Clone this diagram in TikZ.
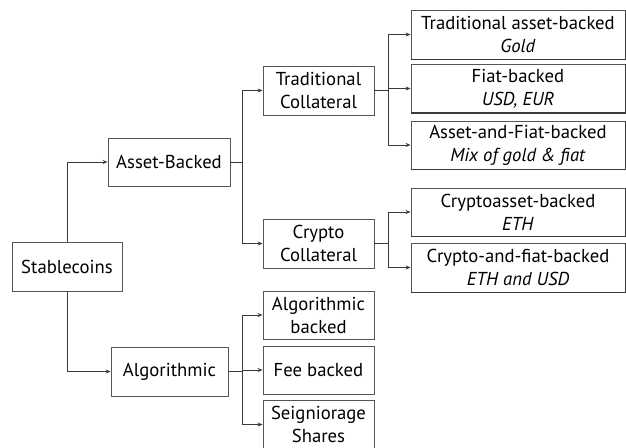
\documentclass[tikz,border=0pt]{standalone}
\usepackage{fontspec}
\setmainfont{PT Sans}
\usetikzlibrary{arrows.meta}
\definecolor{linegray}{HTML}{3A3A3A}
\definecolor{boxgray}{HTML}{555555}
\begin{document}
\begin{tikzpicture}[x=1pt,y=-1pt,
  box/.style={draw=boxgray, line width=0.8pt, align=center, inner sep=0pt,
    font=\fontsize{18.7}{23}\selectfont, text=black},
  midbox/.style={box, minimum width=111pt, minimum height=49pt},
  leafbox/.style={box, minimum width=214pt, minimum height=49pt},
  conn/.style={draw=linegray, line width=0.8pt, -{Stealth[length=5pt,width=4pt]}},
  plain/.style={draw=linegray, line width=0.8pt}]
\useasboundingbox (0,0) rectangle (626,447);
\clip (0,0) rectangle (626,447);

\node[box, minimum width=110pt, minimum height=49pt] (stab) at (67,266.5) {Stablecoins};
\node[box, minimum width=122pt, minimum height=48pt] (asset) at (169,162) {Asset-Backed};
\node[box, minimum width=117pt, minimum height=49pt] (algo) at (169.5,371.5) {Algorithmic};

\node[midbox] (trad) at (318.5,90.5) {Traditional\\Collateral};
\node[midbox] (crypto) at (318.5,243.5) {Crypto\\Collateral};
\node[midbox, minimum height=48pt] (algb) at (318.5,315) {Algorithmic\\backed};
\node[midbox, minimum height=48pt] (fee) at (318.5,370) {Fee backed};
\node[midbox] (seig) at (318.5,424.5) {Seigniorage\\Shares};

\node[leafbox] (r1) at (518,34.5) {Traditional asset-backed\\\textit{Gold}};
\node[leafbox, minimum height=48pt] (r2) at (518,88.5) {Fiat-backed\\\textit{USD, EUR}};
\node[leafbox, minimum height=48pt] (r3) at (518,145) {Asset-and-Fiat-backed\\\textit{Mix of gold \& fiat}};
\node[leafbox, minimum height=48pt] (r4) at (518,212) {Cryptoasset-backed\\\textit{ETH}};
\node[leafbox] (r5) at (518,267.5) {Crypto-and-fiat-backed\\\textit{ETH and USD}};

\foreach \r in {r1,r2,r3,r4,r5}
  \draw[draw=linegray, line width=1.8pt] (\r.south west) -- (\r.south east) -- (\r.north east);

\coordinate (ab) at (242,162);
\coordinate (gb) at (242,371.5);
\coordinate (tb) at (388,90.5);
\coordinate (cb) at (388,243.5);

\draw[conn] (stab.north) |- (asset.west);
\draw[conn] (stab.south) |- (algo.west);

\draw[plain] (asset.east) -- (ab);
\draw[conn] (ab) |- (trad.west);
\draw[conn] (ab) |- (crypto.west);

\draw[plain] (algo.east) -- (gb);
\draw[conn] (gb) |- (algb.west);
\draw[conn] (gb) |- (fee.west);
\draw[conn] (gb) |- (seig.west);

\draw[plain] (trad.east) -- (tb);
\draw[conn] (tb) |- (r1.west);
\draw[conn] (tb) |- (r2.west);
\draw[conn] (tb) |- (r3.west);

\draw[plain] (crypto.east) -- (cb);
\draw[conn] (cb) |- (r4.west);
\draw[conn] (cb) |- (r5.west);
\end{tikzpicture}
\end{document}
